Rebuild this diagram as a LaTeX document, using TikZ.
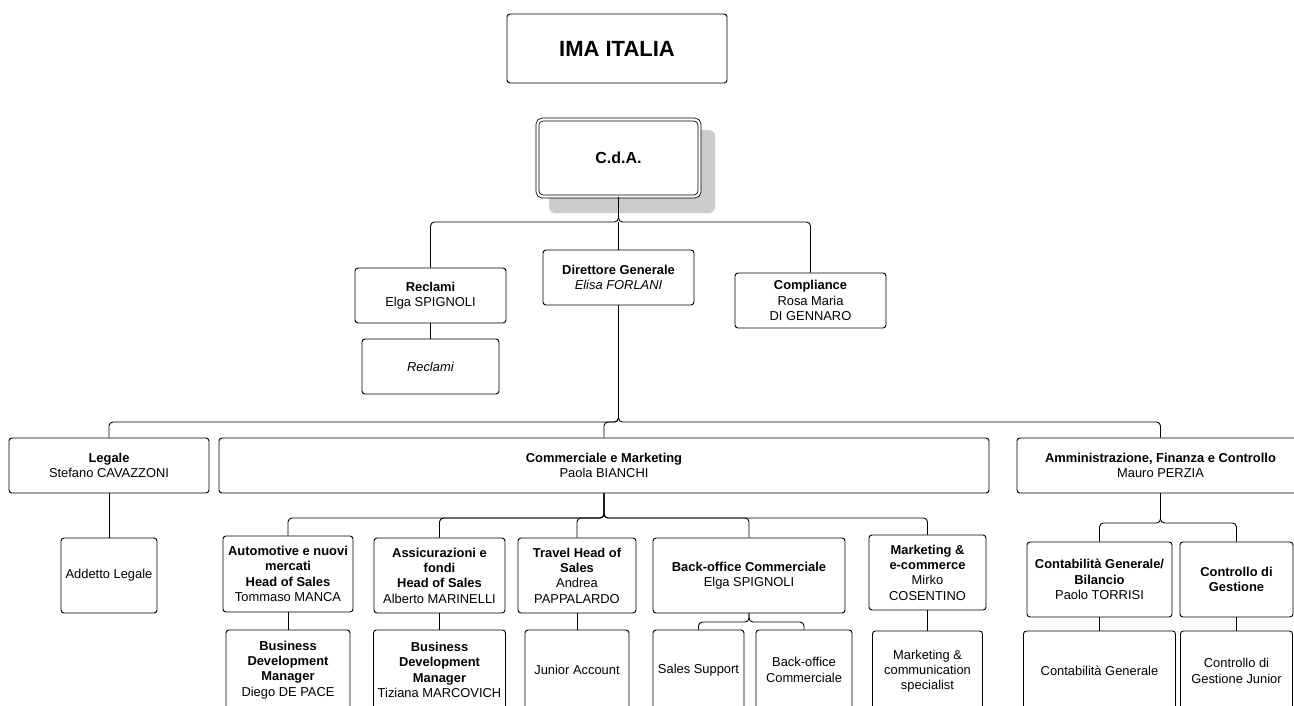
\documentclass[tikz,border=0pt]{standalone}
\usepackage{fontspec}
\setmainfont{Liberation Sans}
\usepackage{tikz}

\begin{document}
\begin{tikzpicture}[x=1pt, y=-1pt,
  box/.style={draw, line width=0.9pt, rounded corners=3pt, fill=white, align=center, inner sep=0pt, font=\fontsize{12.9}{15.3}\selectfont},
  link/.style={line width=0.9pt, rounded corners=4pt}]
  \useasboundingbox (0,0) rectangle (1294,706);
  \clip (0,0) rectangle (1294,706);

  % top
  \node[box, minimum width=220pt, minimum height=69pt, font=\bfseries\fontsize{22}{26}\selectfont] (ima) at (617,48.5) {IMA ITALIA};
  \fill[gray!40, rounded corners=6pt] (549,130) rectangle (715,213);
  \node[box, double, double distance=2.2pt, line width=0.8pt, rounded corners=5pt, minimum width=162pt, minimum height=77pt, font=\bfseries\fontsize{16}{19}\selectfont] (cda) at (618.5,158) {C.d.A.};

  \node[box, minimum width=151pt, minimum height=55pt] (recl) at (430.5,295.5) {\textbf{Reclami}\\Elga SPIGNOLI};
  \node[box, minimum width=137pt, minimum height=55pt] (reclsub) at (430.5,366.5) {\textit{Reclami}};
  \node[box, minimum width=151pt, minimum height=55pt] (dg) at (618.5,277.5) {\textbf{Direttore Generale}\\\textit{Elisa FORLANI}};
  \node[box, minimum width=151pt, minimum height=55pt] (comp) at (810.5,300.5) {\textbf{Compliance}\\Rosa Maria\\DI GENNARO};

  % second level
  \node[box, minimum width=200pt, minimum height=55pt] (legale) at (109,465.5) {\textbf{Legale}\\Stefano CAVAZZONI};
  \node[box, minimum width=96pt, minimum height=75pt] (addetto) at (109,575.5) {Addetto Legale};
  \node[box, minimum width=770pt, minimum height=55pt] (comm) at (604,465.5) {\textbf{Commerciale e Marketing}\\Paola BIANCHI};
  \node[box, minimum width=287pt, minimum height=55pt] (afc) at (1160.5,465.5) {\textbf{Amministrazione, Finanza e Controllo}\\Mauro PERZIA};

  % commerciale
  \node[box, minimum width=130pt, minimum height=76pt] (auto) at (288,574) {\textbf{Automotive e nuovi}\\\textbf{mercati}\\\textbf{Head of Sales}\\Tommaso MANCA};
  \node[box, minimum width=124pt, minimum height=80pt] (bdm1) at (288,670) {\textbf{Business}\\\textbf{Development}\\\textbf{Manager}\\Diego DE PACE};
  \node[box, minimum width=131pt, minimum height=75pt] (assic) at (439.5,575.5) {\textbf{Assicurazioni e}\\\textbf{fondi}\\\textbf{Head of Sales}\\Alberto MARINELLI};
  \node[box, minimum width=132pt, minimum height=80pt] (bdm2) at (439.5,670) {\textbf{Business}\\\textbf{Development}\\\textbf{Manager}\\Tiziana MARCOVICH};
  \node[box, minimum width=118pt, minimum height=75pt] (travel) at (577,575.5) {\textbf{Travel Head of}\\\textbf{Sales}\\Andrea\\PAPPALARDO};
  \node[box, minimum width=104pt, minimum height=80pt] (junior) at (577,670) {Junior Account};
  \node[box, minimum width=192pt, minimum height=75pt] (boc) at (749,575.5) {\textbf{Back-office Commerciale}\\Elga SPIGNOLI};
  \node[box, minimum width=91pt, minimum height=80pt] (sales) at (698.5,670) {Sales Support};
  \node[box, minimum width=96pt, minimum height=80pt] (bocsub) at (804,670) {Back-office\\Commerciale};
  \node[box, minimum width=117pt, minimum height=75pt] (mkt) at (927.5,572.5) {\textbf{Marketing \&}\\\textbf{e-commerce}\\Mirko\\COSENTINO};
  \node[box, minimum width=110pt, minimum height=80pt] (mktsub) at (927.5,671) {Marketing \&\\communication\\specialist};

  % amministrazione
  \node[box, minimum width=145pt, minimum height=75pt] (contab) at (1099.5,579.5) {\textbf{Contabilità Generale/}\\\textbf{Bilancio}\\Paolo TORRISI};
  \node[box, minimum width=113pt, minimum height=75pt] (ctrl) at (1236.5,579.5) {\textbf{Controllo di}\\\textbf{Gestione}};
  \node[box, minimum width=152pt, minimum height=80pt] (contabsub) at (1099.5,671) {Contabilità Generale};
  \node[box, minimum width=112pt, minimum height=80pt] (ctrlsub) at (1236.5,671) {Controllo di\\Gestione Junior};

  % links
  \coordinate (b1) at (618.5,222);
  \draw[link] (cda.south) -- (b1) -| (recl.north);
  \draw[link] (cda.south) -- (b1) -| (comp.north);
  \draw[link] (b1) -- (dg.north);
  \draw[link] (recl) -- (reclsub);

  \coordinate (b2) at (618.5,422);
  \foreach \n in {legale, comm, afc}
    \draw[link] (dg.south) -- (b2) -| (\n.north);
  \draw[link] (legale) -- (addetto);

  \coordinate (b3) at (604,518);
  \foreach \n in {auto, assic, travel, boc, mkt}
    \draw[link] (comm.south) -- (b3) -| (\n.north);
  \foreach \a/\b in {auto/bdm1, assic/bdm2, travel/junior, mkt/mktsub, contab/contabsub, ctrl/ctrlsub}
    \draw[link] (\a) -- (\b);

  \coordinate (b4) at (749,622);
  \foreach \n in {sales, bocsub}
    \draw[link] (boc.south) -- (b4) -| (\n.north);

  \coordinate (b5) at (1160.5,523);
  \foreach \n in {contab, ctrl}
    \draw[link] (afc.south) -- (b5) -| (\n.north);
\end{tikzpicture}
\end{document}
